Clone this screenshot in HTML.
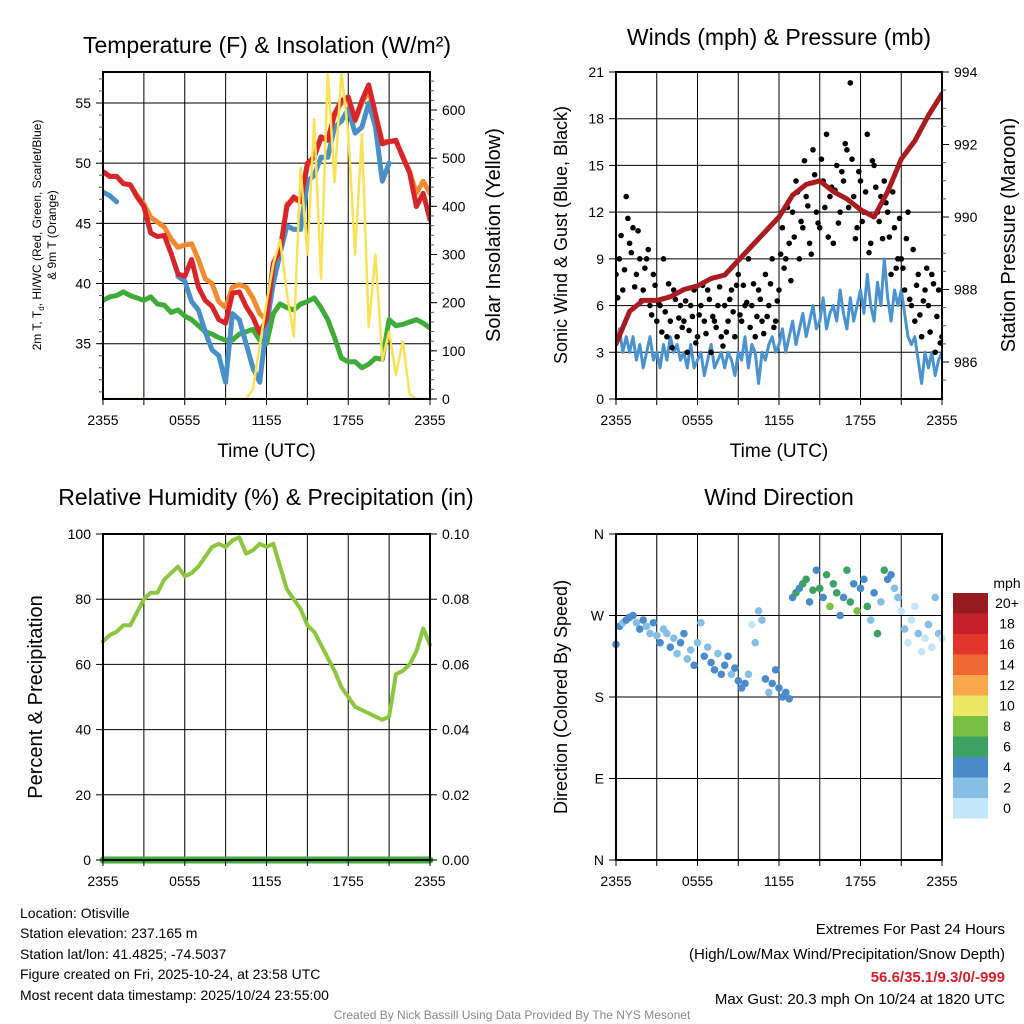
<!DOCTYPE html>
<html><head><meta charset="utf-8"><style>
html,body{margin:0;padding:0;background:#fff;}
svg{display:block;font-family:"Liberation Sans",Arial,sans-serif;}
</style></head><body>
<svg id="s" width="1024" height="1024" viewBox="0 0 1024 1024" xmlns="http://www.w3.org/2000/svg">
<rect width="1024" height="1024" fill="#fff"/>
<g id="root"></g>
</svg>
<script>
// ---------- DATA (half-hourly, hour 0..24 unless noted) ----------
const xTickLabels = ["2355","0555","1155","1755","2355"];
const tempRed = [49.3,48.9,48.9,48.3,48.2,47.2,46.4,44.2,43.9,44.0,42.5,40.8,40.6,42.0,39.7,38.6,38.1,37.0,36.7,39.2,39.3,38.1,37.2,35.9,37.0,41.7,42.8,46.4,47.2,46.8,50.0,50.5,52.2,51.9,54.1,55.2,55.5,53.6,55.2,56.5,54.1,51.6,51.8,51.9,50.5,49.2,46.4,47.5,45.3];
const temp9m = [49.3,48.9,48.9,48.3,48.2,47.3,46.6,45.5,45.1,44.7,43.7,43.0,43.2,43.3,42.0,40.4,40.0,38.5,38.0,39.7,39.9,39.7,38.8,37.5,37.0,41.5,42.6,46.6,47.0,46.8,49.8,50.6,52.0,52.0,54.0,55.0,55.3,53.5,55.0,56.0,54.0,51.8,51.8,51.8,50.6,49.3,47.5,48.5,47.5];
const windChill = [47.6,47.3,46.8,null,46.3,null,null,null,null,null,null,40.6,40.2,38.5,37.8,36.0,34.5,34.0,31.8,37.5,37.0,35.0,33.0,31.8,36.5,40.0,42.5,44.8,44.5,44.5,48.5,49.0,50.5,50.5,53.0,53.5,54.5,52.5,53.0,55.0,53.0,48.5,50.0,null,null,null,null,null,null];
const dewpoint = [38.6,38.9,39.0,39.3,39.0,38.8,38.6,38.9,38.3,38.2,37.6,37.8,37.3,37.0,36.5,36.0,35.8,35.5,35.3,35.3,35.8,36.0,36.2,35.3,35.0,37.5,38.3,38.0,37.8,38.3,38.5,38.8,38.0,37.0,35.5,33.8,33.5,33.5,33.0,33.3,33.8,33.7,37.0,36.5,36.6,36.8,37.0,36.7,36.3];
const solar = [0,0,0,0,0,0,0,0,0,0,0,0,0,0,0,0,0,0,0,0,0,0,20,110,200,280,330,220,130,480,300,580,250,680,450,680,550,300,550,150,300,80,140,50,120,10,0,0,0];
const pressure = [986.5,987.4,987.7,987.7,987.8,988.0,988.1,988.3,988.4,988.8,989.2,989.6,990.0,990.6,990.9,991.0,990.7,990.5,990.2,990.0,990.7,991.6,992.1,992.8,993.4]; // hourly
// quarter-hourly (0..24 step 0.25)
const sonicWind = [3.5,4.5,3,4, 3,4,2.5,3.5, 2,3,4,2.5, 3,2,3.5,2.5, 4,3,3.5,2.5, 3,2,3.5,2, 2.5,3,1.5,2.5, 3.5,2,2.5,3, 2,3,2.5,1.5, 3,2.5,4,2, 3.5,3,1,3, 2.5,3.5,4,3, 3.5,4.5,3,4, 5,3.5,4.5,5.5, 4,5,6,4.5, 5,6.5,4.5,5.5, 6,5,7,5.5, 4.5,6.5,5,6, 7,5.5,8,6, 5,7.5,6,9, 6.5,5,7,6, 7,5.5,4,3.5, 4,2.5,1,3, 2,3,1.5,2.5, 3];
const gustA = [8,9,7,13, 10,11,8,9, 7,9,6,8, 5,6,9,4, 5,7,4,6, 5,3,6,7, 4,6,5,7, 3,5,6,4, 6,5,7,4, 8,5,6,9, 6,4,7,5, 8,6,9,5, 7,11,9,10, 12,14,9,11, 13,10,16,12, 11,14,17,13, 10,15,12,14, 16,20.3,13,11, 14,12,17,10, 15,12,13,14, 12,8,11,9, 9,7,12,6, 5,8,4,7, 6,8,3,7, 4];
const gustB = [6.5,10.5,8.3,11.6, 9.4,7.2,10.8,6.3, 8.4,9.6,5.4,7.3, 6.2,4.3,5.6,7.4, 3.3,6.4,5.2,4.6, 6.3,4.4,5.3,3.6, 5.4,7.3,4.2,6.4, 5.3,4.6,7.2,3.4, 4.3,6.4,5.6,7.3, 5.4,7.3,6.2,4.6, 7.4,5.3,6.4,4.2, 5.3,7.4,4.6,6.3, 9.3,8.4,12.3,7.6, 10.4,13.3,11.4,15.3, 12.4,9.3,14.4,11.3, 15.4,12.3,10.4,13.6, 13.4,11.3,14.6,16.4, 12.3,15.4,10.3,14.6, 11.4,13.3,9.4,15.3, 13.6,11.4,10.3,12.6, 10.4,13.3,8.4,11.6, 8.4,10.3,6.4,9.6, 7.3,5.4,6.3,8.4, 4.3,7.4,5.3,3.6];
const rh = [67,69,70,72,72,76,80,82,82,86,88,90,87,88,90,93,96,97,96,98,99,94,95,97,96,97,90,83,80,77,72,70,66,62,58,53,50,47,46,45,44,43,44,57,58,60,64,71,66];
const precip = [0,0,0,0,0,0,0,0,0,0,0,0,0,0,0,0,0,0,0,0,0,0,0,0,0];
const windDir = [238,258,262,265, 268,270,262,255, 265,258,250,262, 248,240,255,250, 235,245,228,240, 250,222,232,215, 240,262,225,235, 218,210,228,205, 215,225,205,212, 198,190,195,205, 260,240,275,265, 200,185,195,210, 190,180,185,178, 290,295,300,305, 310,285,298,320, 300,290,315,280, 305,295,270,290, 320,285,305,275, 300,310,280,265, 295,250,285,320, 310,315,300,290, 275,255,240,265, 280,250,230,245, 260,235,290,250, 245];
const windSpd = [4,5,3,4, 5,4,3,4, 4,3,2,5, 3,4,3,2, 4,3,2,4, 5,3,2,4, 3,2,4,3, 4,5,3,4, 5,4,3,4, 4,5,4,3, 1,2,3,2, 4,3,5,4, 4,5,4,5, 5,6,4,7, 6,5,7,4, 7,5,6,8, 6,7,5,4, 7,6,5,8, 5,4,6,3, 4,7,3,6, 5,4,3,2, 1,2,1,0, 1,2,1,0, 2,1,3,2, 1];
const speedBins = ["0","2","4","6","8","10","12","14","16","18","20+"];
const binColors = ["#c3e6f8","#86bfe6","#4a8ccb","#3fa265","#78c145","#ece765","#f7a84a","#ef6930","#e2352c","#c4202a","#951b1e"];

// ---------- helpers ----------
const NS="http://www.w3.org/2000/svg";
const root=document.getElementById('root');
function mk(tag,attrs,parent,text){const e=document.createElementNS(NS,tag);for(const k in attrs)e.setAttribute(k,attrs[k]);if(text!==undefined)e.textContent=text;(parent||root).appendChild(e);return e;}
function lin(d0,d1,r0,r1){return v=>r0+(v-d0)/(d1-d0)*(r1-r0);}
function pathFrom(vals,step,xs,ys){let d="",pen=false;vals.forEach((v,i)=>{if(v===null||v===undefined){pen=false;return;}d+=(pen?"L":"M")+xs(i*step).toFixed(1)+","+ys(v).toFixed(1);pen=true;});return d;}
function panel(name,L,T,R,B){const g=mk('g',{});return {g,L,T,R,B};}
function grid(p,xs,hLines){const g=mk('g',{},p.g);
  for(let h=3;h<24;h+=3)mk('line',{x1:xs(h),x2:xs(h),y1:p.T,y2:p.B,stroke:'#000','stroke-width':1},g);
  hLines.forEach(y=>mk('line',{x1:p.L,x2:p.R,y1:y,y2:y,stroke:'#000','stroke-width':1},g));}
function frame(p){const r=mk('rect',{x:p.L,y:p.T,width:p.R-p.L,height:p.B-p.T,fill:'none',stroke:'#000','stroke-width':2},p.g);}
function xAxis(p,xs,withTitle){const g=mk('g',{},p.g);
  for(let h=0;h<=24;h+=3)mk('line',{x1:xs(h),x2:xs(h),y1:p.B,y2:p.B+6,stroke:'#000','stroke-width':1},g);
  xTickLabels.forEach((t,i)=>{const e=mk('text',{x:xs(i*6),y:p.B+26,'text-anchor':'middle','font-size':14},g,t);});
  if(withTitle){const e=mk('text',{x:(p.L+p.R)/2,y:p.B+58,'text-anchor':'middle','font-size':19},g,'Time (UTC)');}}
function yTicks(p,side,vals,ys,fmt,name,minor){const g=mk('g',{},p.g);
  const x0=side==='l'?p.L:p.R,dir=side==='l'?-1:1;
  (minor||[]).forEach(v=>mk('line',{x1:x0,x2:x0+dir*4,y1:ys(v),y2:ys(v),stroke:'#555','stroke-width':1},g));
  vals.forEach(v=>{mk('line',{x1:x0,x2:x0+dir*7,y1:ys(v),y2:ys(v),stroke:'#000','stroke-width':1},g);
    const e=mk('text',{x:x0+dir*12,y:ys(v)+5,'text-anchor':side==='l'?'end':'start','font-size':14},g,fmt(v));});}
function rotText(x,y,txt,size,name,parent){const e=mk('text',{x:0,y:0,transform:`translate(${x},${y}) rotate(-90)`,'text-anchor':'middle','font-size':size},parent,txt);return e;}
function title(x,y,txt,name,parent){const e=mk('text',{x,y,'text-anchor':'middle','font-size':23},parent,txt);return e;}
function seriesPath(p,d,color,w,name){const e=mk('path',{d,fill:'none',stroke:color,'stroke-width':w,'stroke-linejoin':'round','stroke-linecap':'round'},p.g);}
function range(a,b,s){const r=[];for(let v=a;v<=b+1e-9;v+=s)r.push(+v.toFixed(4));return r;}

// ---------- Panel 1: temperature ----------
{const p=panel('temperature-panel',103,72,430,399);
 const xs=lin(0,24,p.L,p.R), ys=lin(35,55,343.7,103), ysR=lin(0,600,399,110);
 grid(p,xs,[35,40,45,50,55].map(ys));
 const clip=mk('clipPath',{id:'c1'},p.g);mk('rect',{x:p.L,y:p.T,width:p.R-p.L,height:p.B-p.T},clip);
 const sg=mk('g',{'clip-path':'url(#c1)'},p.g);const q={g:sg};
 seriesPath(q,pathFrom(dewpoint,0.5,xs,ys),'#3fac3a',5,'dewpoint-line');
 seriesPath(q,pathFrom(temp9m,0.5,xs,ys),'#f28a30',5,'temp-9m-line');
 seriesPath(q,pathFrom(windChill,0.5,xs,ys),'#4a90c8',5,'wind-chill-line');
 seriesPath(q,pathFrom(tempRed,0.5,xs,ys),'#d7262b',5,'temp-2m-line');
 seriesPath(q,pathFrom(solar,0.5,xs,ysR),'#f9e256',2.5,'solar-line');
 frame(p);xAxis(p,xs,true);
 yTicks(p,'l',[35,40,45,50,55],ys,v=>v,'y-axis-left',range(31,57,1));
 yTicks(p,'r',[0,100,200,300,400,500,600],ysR,v=>v,'y-axis-right',range(20,660,20));
 title(267,53,'Temperature (F) & Insolation (W/m²)','temperature-title',p.g);
 const t=mk('text',{transform:'translate(41,235) rotate(-90)','text-anchor':'middle','font-size':12},p.g);
 mk('tspan',{x:0,y:0},t,'2m T, T');mk('tspan',{'font-size':8,dy:3},t,'d');mk('tspan',{dy:-3},t,', HI/WC (Red, Green, Scarlet/Blue)');
 mk('tspan',{x:0,y:15},t,'& 9m T (Orange)');
 rotText(500,235,'Solar Insolation (Yellow)',20,'y-axis-right-title',p.g);}

// ---------- Panel 2: winds ----------
{const p=panel('winds-panel',616,72,942,399);
 const xs=lin(0,24,p.L,p.R), ys=lin(0,21,399,72), ysP=lin(986,994,362,72);
 grid(p,xs,[3,6,9,12,15,18].map(ys));
 const clip=mk('clipPath',{id:'c2'},p.g);mk('rect',{x:p.L,y:p.T,width:p.R-p.L,height:p.B-p.T},clip);
 const sg=mk('g',{'clip-path':'url(#c2)'},p.g);const q={g:sg};
 seriesPath(q,pathFrom(sonicWind,0.25,xs,ys),'#4b93cf',3,'sonic-wind-line');
 const dg=mk('g',{},sg);
 gustA.forEach((v,i)=>{const c=mk('circle',{cx:xs(i*0.25),cy:ys(v),r:2.8,fill:'#000'},dg);});
 gustB.forEach((v,i)=>{const c=mk('circle',{cx:xs(i*0.25+0.125),cy:ys(v),r:2.8,fill:'#000'},dg);});
 seriesPath(q,pathFrom(pressure,1,xs,ysP),'#a81c20',5,'pressure-line');
 frame(p);xAxis(p,xs,true);
 yTicks(p,'l',[0,3,6,9,12,15,18,21],ys,v=>v,'y-axis-left');
 yTicks(p,'r',[986,988,990,992,994],ysP,v=>v,'y-axis-right',range(985.5,993.5,0.5));
 title(779,45,'Winds (mph) & Pressure (mb)','winds-title',p.g);
 rotText(567,235,'Sonic Wind & Gust (Blue, Black)',18,'y-axis-left-title',p.g);
 rotText(1015,235,'Station Pressure (Maroon)',20,'y-axis-right-title',p.g);}

// ---------- Panel 3: RH ----------
{const p=panel('humidity-panel',103,534,430,860);
 const xs=lin(0,24,p.L,p.R), ys=lin(0,100,860,534), ysR=lin(0,0.1,860,534);
 grid(p,xs,[20,40,60,80].map(ys));
 seriesPath(p,pathFrom(rh,0.5,xs,ys),'#8cc63f',4,'rh-line');
 seriesPath(p,pathFrom(precip,1,xs,ysR),'#3fac3a',7,'precip-line');
 frame(p);xAxis(p,xs,false);
 yTicks(p,'l',[0,20,40,60,80,100],ys,v=>v,'y-axis-left');
 yTicks(p,'r',[0,0.02,0.04,0.06,0.08,0.1],ysR,v=>v.toFixed(2),'y-axis-right');
 title(266,505,'Relative Humidity (%) & Precipitation (in)','humidity-title',p.g);
 rotText(42,697,'Percent & Precipitation',20,'y-axis-left-title',p.g);}

// ---------- Panel 4: wind direction ----------
{const p=panel('wind-direction-panel',616,534,942,860);
 const xs=lin(0,24,p.L,p.R), ys=lin(0,360,860,534);
 grid(p,xs,[90,180,270].map(ys));
 const dg=mk('g',{},p.g);
 windDir.forEach((v,i)=>{const b=Math.min(10,Math.floor(windSpd[i]/2));const c=mk('circle',{cx:xs(i*0.25),cy:ys(v),r:3.8,fill:binColors[b]},dg);});
 frame(p);xAxis(p,xs,false);
 yTicks(p,'l',[0,90,180,270,360],ys,v=>["N","E","S","W","N"][v/90],'y-axis-left');
 title(779,505,'Wind Direction','wind-direction-title',p.g);
 rotText(567,697,'Direction (Colored By Speed)',18,'y-axis-left-title',p.g);
 const lg=mk('g',{},p.g);
 const bh=20.5,top=593;
 speedBins.forEach((s,i)=>{const k=10-i;const y=top+i*bh;
   const r=mk('rect',{x:953,y,width:35,height:bh,fill:binColors[k]},lg);
   const t=mk('text',{x:1007,y:y+15,'text-anchor':'middle','font-size':14},lg,speedBins[k]);});
 const u=mk('text',{x:1007,y:588,'text-anchor':'middle','font-size':14},lg,'mph');}
</script>
<div style="position:absolute;left:20px;top:903px;font:14px 'Liberation Sans',sans-serif;line-height:20.4px;color:#000">
<div>Location: Otisville</div>
<div>Station elevation: 237.165 m</div>
<div>Station lat/lon: 41.4825; -74.5037</div>
<div>Figure created on Fri, 2025-10-24, at 23:58 UTC</div>
<div>Most recent data timestamp: 2025/10/24 23:55:00</div>
</div>
<div style="position:absolute;right:19px;top:917px;text-align:right;font:15px 'Liberation Sans',sans-serif;color:#000">
<div style="line-height:25px">Extremes For Past 24 Hours</div>
<div style="line-height:25px">(High/Low/Max Wind/Precipitation/Snow Depth)</div>
<div style="line-height:22px;color:#d21f2a;font-weight:bold">56.6/35.1/9.3/0/-999</div>
<div style="line-height:22px">Max Gust: 20.3 mph On 10/24 at 1820 UTC</div>
</div>
<div style="position:absolute;left:0;width:1024px;top:1008px;text-align:center;font:12px 'Liberation Sans',sans-serif;color:#888">Created By Nick Bassill Using Data Provided By The NYS Mesonet</div>
</body></html>
